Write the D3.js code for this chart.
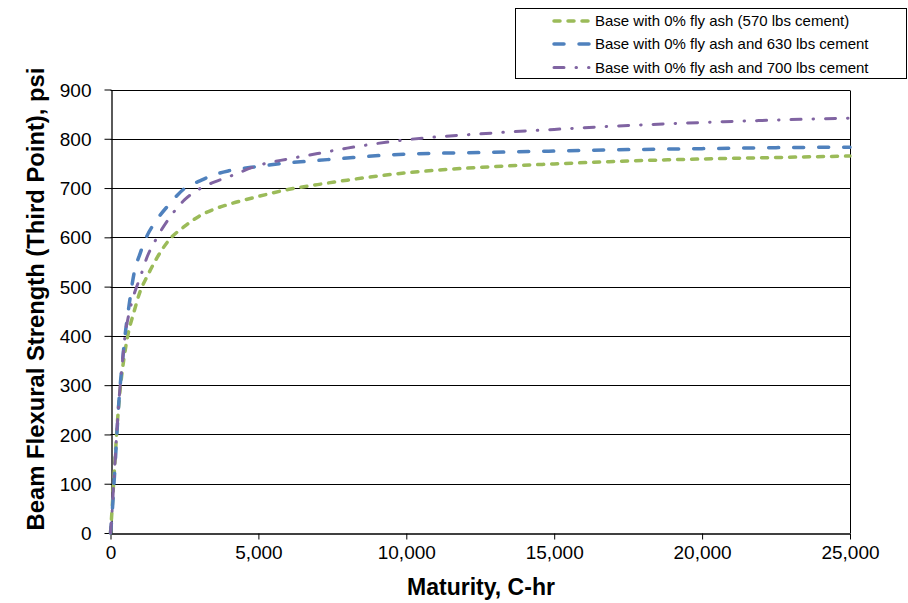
<!DOCTYPE html>
<html>
<head>
<meta charset="utf-8">
<script src="https://cdn.jsdelivr.net/npm/d3@7"></script>
<style>
  html, body { margin: 0; padding: 0; background: #fff; }
  svg { display: block; font-family: "Liberation Sans", Arial, sans-serif; }
</style>
</head>
<body>
<svg id="chart" width="908" height="603"></svg>
<script>
// ---- Data ----
const maturity = [0, 50, 100, 150, 200, 300, 400, 500, 600, 800, 1000, 1250, 1500, 2000, 2500, 3000, 3500, 4000, 5000, 6000, 7000, 8000, 10000, 12500, 15000, 17500, 20000, 22500, 25000];
const base570 = [0, 45, 95, 145, 195, 275, 330, 372, 405, 450, 490, 522, 551, 596, 622, 643, 657, 667, 683, 697, 707, 716, 731, 742, 749, 755, 759, 762, 765];
const base630 = [0, 35, 82, 132, 185, 280, 345, 405, 450, 528, 567, 605, 630, 668, 699, 714, 727, 735, 744, 751, 756, 761, 769, 772, 775, 778, 780, 782, 783];
const base700 = [0, 40, 92, 142, 192, 280, 345, 405, 438, 485, 518, 562, 592, 640, 676, 698, 712, 723, 746, 759, 770, 781, 798, 810, 819, 827, 833, 838, 842];
const seriesNames = ["Base with 0% fly ash (570 lbs cement)", "Base with 0% fly ash and 630 lbs cement", "Base with 0% fly ash and 700 lbs cement"];
const xTicks = [0, 5000, 10000, 15000, 20000, 25000];
const yTicks = [0, 100, 200, 300, 400, 500, 600, 700, 800, 900];

const styles = [
  { color: "#9BBB59", width: 3.5, dash: "6,8" },
  { color: "#4F81BD", width: 3.5, dash: "10,15" },
  { color: "#8064A2", width: 3, dash: "10,12,0.5,12" }
];
const seriesValues = [base570, base630, base700];

const svg = d3.select("#chart");
const pLeft = 110.5, pRight = 850, pTop = 89.5, pBottom = 533;
const x = d3.scaleLinear().domain([0, 25000]).range([pLeft, pRight]);
const y = d3.scaleLinear().domain([0, 900]).range([pBottom, pTop]);

// gridlines
svg.append("g").selectAll("line").data(yTicks.filter(d => d > 0)).join("line")
  .attr("x1", pLeft).attr("x2", pRight)
  .attr("y1", d => Math.round(y(d)) + 0.5).attr("y2", d => Math.round(y(d)) + 0.5)
  .attr("stroke", "#000").attr("stroke-width", 1);
// right border
svg.append("line").attr("x1", pRight + 0.5).attr("x2", pRight + 0.5)
  .attr("y1", Math.round(pTop) + 0.5).attr("y2", pBottom).attr("stroke", "#000");

// axes
const fmt = d3.format(",");
const xAxis = svg.append("g").attr("transform", `translate(0,${Math.round(pBottom) + 0.5})`)
  .call(d3.axisBottom(x).tickValues(xTicks).tickFormat(fmt).tickSize(6).tickSizeOuter(0));
const yAxis = svg.append("g").attr("transform", `translate(${Math.round(pLeft) + 0.5},0)`)
  .call(d3.axisLeft(y).tickValues(yTicks).tickSize(7).tickSizeOuter(0));
[xAxis, yAxis].forEach(a => {
  a.select(".domain").attr("stroke", "#000").attr("stroke-width", 1.3);
  a.selectAll(".tick line").attr("stroke", "#000");
  a.selectAll("text").attr("fill", "#000").style("font-size", "19px")
    .style("font-family", '"Liberation Sans", Arial, sans-serif');
});
xAxis.selectAll("text").attr("y", 12).attr("dy", "0.71em");
yAxis.selectAll("text").attr("x", -20).attr("dy", "0.35em");

// titles
svg.append("text").attr("x", 481).attr("y", 595).attr("text-anchor", "middle")
  .style("font-size", "23px").style("font-weight", "bold").text("Maturity, C-hr");
svg.append("text").attr("transform", "translate(44,299) rotate(-90)").attr("text-anchor", "middle")
  .style("font-size", "23.8px").style("font-weight", "bold").text("Beam Flexural Strength (Third Point), psi");

// lines
const line = d3.line().x(d => x(d[0])).y(d => y(d[1])).curve(d3.curveMonotoneX);
seriesValues.forEach((vals, i) => {
  const pts = maturity.map((m, j) => [m, vals[j]]);
  svg.append("path").datum(pts).attr("d", line)
    .attr("fill", "none").attr("stroke", styles[i].color)
    .attr("stroke-width", styles[i].width).attr("stroke-dasharray", styles[i].dash)
    .attr("stroke-linecap", "round");
});

// legend
const lg = svg.append("g");
lg.append("rect").attr("x", 515.5).attr("y", 8.5).attr("width", 391).attr("height", 70)
  .attr("fill", "#fff").attr("stroke", "#000").attr("stroke-width", 1);
const rowY = [21, 44, 67.5];
seriesNames.forEach((name, i) => {
  lg.append("line").attr("x1", 554).attr("x2", 589).attr("y1", rowY[i]).attr("y2", rowY[i])
    .attr("stroke", styles[i].color).attr("stroke-width", styles[i].width)
    .attr("stroke-dasharray", styles[i].dash).attr("stroke-linecap", "round");
  lg.append("text").attr("x", 595).attr("y", rowY[i]).attr("dy", "0.35em")
    .style("font-size", "15px").attr("fill", "#000").text(name);
});
</script>
</body>
</html>
